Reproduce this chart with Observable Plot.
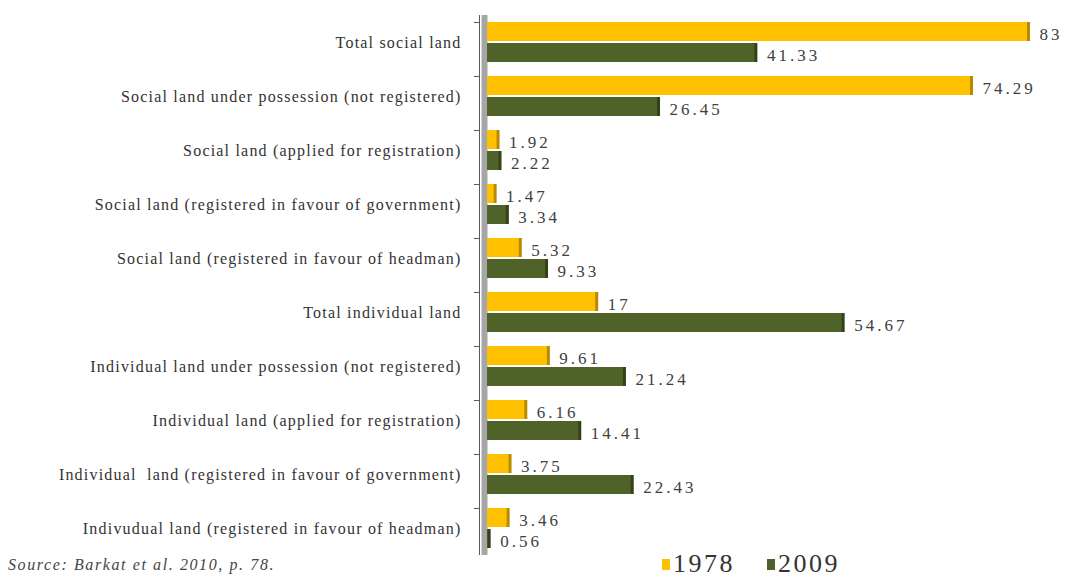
<!DOCTYPE html>
<html>
<head>
<meta charset="utf-8">
<script src="https://cdn.jsdelivr.net/npm/d3@7"></script>
<script src="https://cdn.jsdelivr.net/npm/@observablehq/plot@0.6"></script>
<style>
  html, body { margin: 0; padding: 0; background: #fff; }
  #wrap { width: 1067px; height: 578px; position: relative; overflow: hidden; }
  #chart svg { display: block; }
  #chart svg text { font-family: "Liberation Serif", "Times New Roman", serif; }
  g[aria-label="fy-axis tick label"] text { letter-spacing: 1.2px; }
  g.vals text { letter-spacing: 3px; }
  #foot { position: relative; height: 23px; font-family: "Liberation Serif", "Times New Roman", serif; }
  #source { position: absolute; left: 8px; top: 1px; font-style: italic; font-size: 16px; color: #444; letter-spacing: 1.6px; }
  .leg { position: absolute; top: -6px; font-size: 26px; color: #333; display: flex; align-items: center; letter-spacing: 2.5px; }
  .sw { display: inline-block; width: 8px; height: 11px; margin-right: 3px; }
</style>
</head>
<body>
<div id="wrap">
  <div id="chart"></div>
  <div id="foot">
    <div id="source">Source: Barkat et al. 2010, p. 78.</div>
    <div class="leg" style="left:662px"><span class="sw" style="background:#FFC000"></span>1978</div>
    <div class="leg" style="left:767px"><span class="sw" style="background:#4F6228"></span>2009</div>
  </div>
</div>
<script>
const categories = [
  "Total social land",
  "Social land under possession (not registered)",
  "Social land (applied for registration)",
  "Social land (registered in favour of government)",
  "Social land (registered in favour of headman)",
  "Total individual land",
  "Individual land under possession (not registered)",
  "Individual land (applied for registration)",
  "Individual  land (registered in favour of government)",
  "Indivudual land (registered in favour of headman)"
];
const years = ["1978", "2009"];
const values1978 = [83, 74.29, 1.92, 1.47, 5.32, 17, 9.61, 6.16, 3.75, 3.46];
const values2009 = [41.33, 26.45, 2.22, 3.34, 9.33, 54.67, 21.24, 14.41, 22.43, 0.56];

const yearColors = {"1978": "#FFC000", "2009": "#4F6228"};
const sideColors = {"1978": "#B88A00", "2009": "#34421A"};

const data = [];
categories.forEach((c, i) => {
  data.push({category: c, year: "1978", value: values1978[i]});
  data.push({category: c, year: "2009", value: values2009[i]});
});

const barMarks = years.flatMap(yr => {
  const sub = data.filter(d => d.year === yr);
  return [
    Plot.barX(sub, {x: "value", y: "year", fy: "category", fill: sideColors[yr]}),
    Plot.barX(sub, {x: "value", y: "year", fy: "category", fill: yearColors[yr], insetRight: 3})
  ];
});

const chart = Plot.plot({
  width: 1067,
  height: 555,
  marginLeft: 487,
  marginRight: 37,
  marginTop: 15,
  marginBottom: 0,
  style: {fontSize: "16px", background: "#fff"},
  x: {domain: [0, 83], axis: null},
  y: {domain: years, paddingInner: 0.08, paddingOuter: 0.3, axis: null},
  fy: {domain: categories, padding: 0, axis: null},
  marks: [
    Plot.axisFy({anchor: "left", tickSize: 0, tickPadding: 26, label: null, fontSize: 16, fill: "#333"}),
    Plot.axisFy({anchor: "left", tickSize: 5, text: null, label: null, stroke: "#595959", dx: -8, dy: -20}),
    Plot.ruleX([0], {stroke: "#A6A6A6", strokeWidth: 6, dx: -3}),
    Plot.ruleX([0], {stroke: "#595959", strokeWidth: 1, dx: -8}),
    ...barMarks,
    Plot.text(data, {
      x: "value", y: "year", fy: "category",
      text: d => String(d.value),
      textAnchor: "start", dx: 9, dy: 3,
      fill: "#404040", fontSize: 17, className: "vals"
    })
  ]
});
document.getElementById("chart").appendChild(chart);
</script>
</body>
</html>
